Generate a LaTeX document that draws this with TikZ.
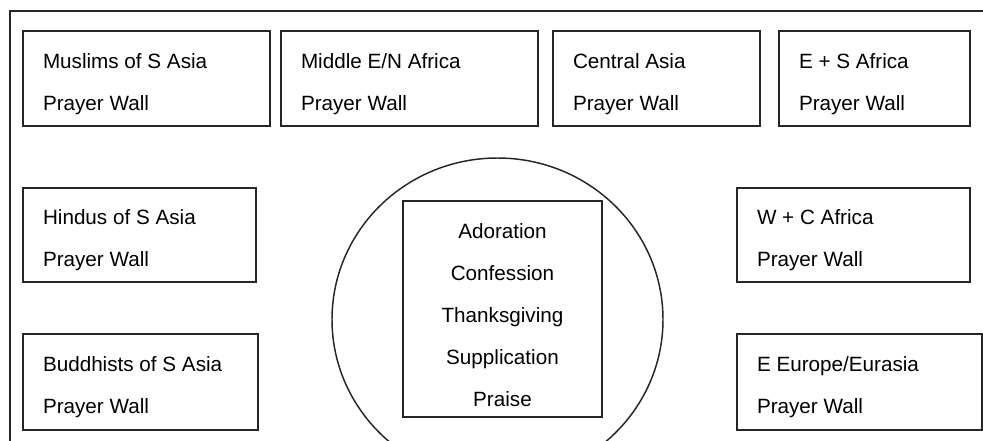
\documentclass[tikz,border=0pt]{standalone}
\usepackage{fontspec}
\setmainfont{Liberation Sans}
\usepackage{tikz}
\definecolor{c262626}{RGB}{38,38,38}
\tikzset{
  walltext/.style={anchor=west, align=left, inner sep=0pt,
    font=\fontsize{15.5}{31.5}\selectfont},
  acts/.style={align=center, inner sep=0pt,
    font=\fontsize{15.5}{31.5}\selectfont}
}

\begin{document}
\begin{tikzpicture}[y=0.75pt,x=0.75pt,yscale=-1, inner sep=0pt, outer sep=0pt]
    \clip (0,0) rectangle (983,440);
      % outer frame, runs off the page to the right and below
      \path[draw=c262626,line width=1.5pt] (10,11) rectangle (1000,460);
      % top row
      \path[draw=c262626,line width=1.5pt] (23,31) rectangle (270,126);
      \path[draw=c262626,line width=1.5pt] (281,31) rectangle (538,126);
      \path[draw=c262626,line width=1.5pt] (553,31) rectangle (760,126);
      \path[draw=c262626,line width=1.5pt] (779,31) rectangle (970,126);
      % left column
      \path[draw=c262626,line width=1.5pt] (23,188) rectangle (256,282);
      \path[draw=c262626,line width=1.5pt] (23,334) rectangle (258,430);
      % right column
      \path[draw=c262626,line width=1.5pt] (737,188) rectangle (970,282);
      \path[draw=c262626,line width=1.5pt] (737,334) rectangle (982,430);
      % centre
      \path[draw=c262626,line width=1.1pt] (497.5,319.5) ellipse (165.5 and 161.5);
      \path[draw=c262626,line width=1.5pt] (403,201) rectangle (602,417);

      \node[walltext] (muslims) at (43,84) {Muslims of S Asia\\Prayer Wall};
      \node[walltext] (menafrica) at (301,84) {Middle E/N Africa\\Prayer Wall};
      \node[walltext] (casia) at (573,84) {Central Asia\\Prayer Wall};
      \node[walltext] (esafrica) at (799,84) {E + S Africa\\Prayer Wall};
      \node[walltext] (hindus) at (43,240) {Hindus of S Asia\\Prayer Wall};
      \node[walltext] (buddhists) at (43,387) {Buddhists of S Asia\\Prayer Wall};
      \node[walltext] (wcafrica) at (757,240) {W + C Africa\\Prayer Wall};
      \node[walltext] (eeurope) at (757,387) {E Europe/Eurasia\\Prayer Wall};
      \node[acts] (acts) at (502.5,315)
        {Adoration\\Confession\\Thanksgiving\\Supplication\\Praise};

  \end{tikzpicture}
\end{document}
